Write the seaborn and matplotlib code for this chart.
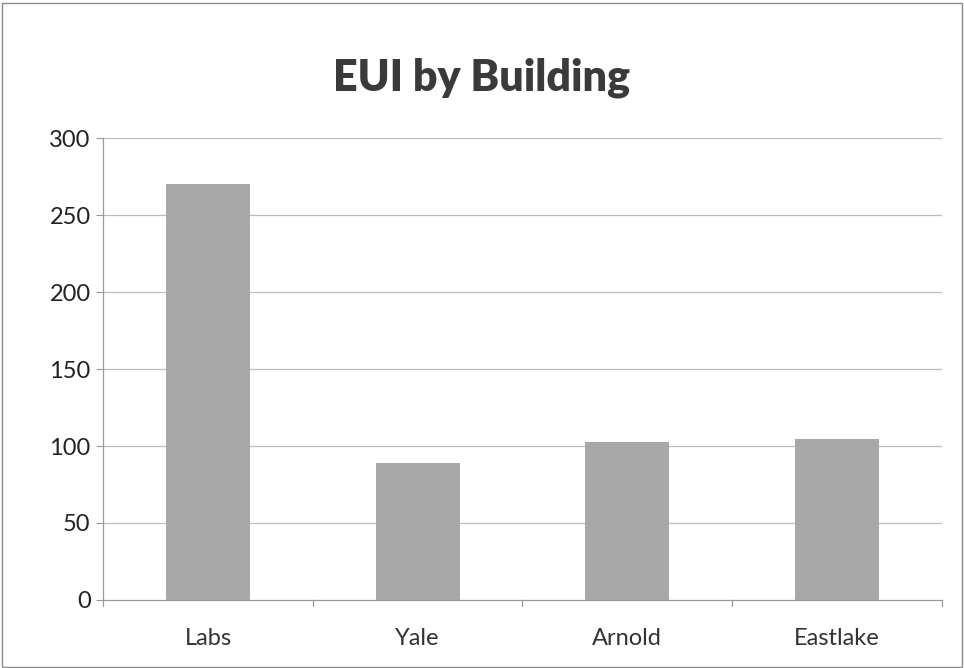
import matplotlib
matplotlib.use("Agg")
import matplotlib.pyplot as plt
import seaborn as sns
import pandas as pd
from matplotlib.patches import Rectangle

buildings = ["Labs", "Yale", "Arnold", "Eastlake"]
eui = [270, 89, 102.5, 104.5]
y_ticks = [0, 50, 100, 150, 200, 250, 300]

df = pd.DataFrame({"building": buildings, "eui": eui})

sns.set_theme(style="white")
plt.rcParams["font.family"] = ["Lato", "DejaVu Sans"]

fig = plt.figure(figsize=(9.64, 6.68), dpi=100)
ax = fig.add_axes([0.107, 0.102, 0.870, 0.691])

sns.barplot(data=df, x="building", y="eui", color="#a8a8a8", width=0.4,
            saturation=1, linewidth=0, ax=ax, zorder=3)

ax.set_ylim(0, 300)
ax.set_xlim(-0.5, 3.5)
ax.set_yticks(y_ticks)
ax.set_yticklabels([str(v) for v in y_ticks], fontsize=17, color="#222222")
ax.tick_params(axis="x", labelsize=17, colors="#333333", length=0, pad=20)
ax.tick_params(axis="y", length=5, width=0.8, color="#999999", pad=4, left=True)
ax.set_xlabel("")
ax.set_ylabel("")

for v in y_ticks[1:]:
    ax.axhline(v, color="#bdbdbd", linewidth=0.9, zorder=1)

for s in ["top", "right"]:
    ax.spines[s].set_visible(False)
for s in ["left", "bottom"]:
    ax.spines[s].set_color("#9a9a9a")
    ax.spines[s].set_linewidth(0.9)

# category boundary ticks on the x axis
for b in [-0.5, 0.5, 1.5, 2.5, 3.5]:
    ax.plot([b, b], [0, -4], color="#9a9a9a", linewidth=0.9, clip_on=False)

fig.text(0.5, 0.883, "EUI by Building", ha="center", va="center",
         fontsize=31, fontweight="heavy", color="#3a3a3a")

fig.patches.append(Rectangle((0.002, 0.002), 0.996, 0.994, transform=fig.transFigure,
                             fill=False, edgecolor="#8a8a8a", linewidth=1.0))

fig.savefig("out.png", dpi=100)
